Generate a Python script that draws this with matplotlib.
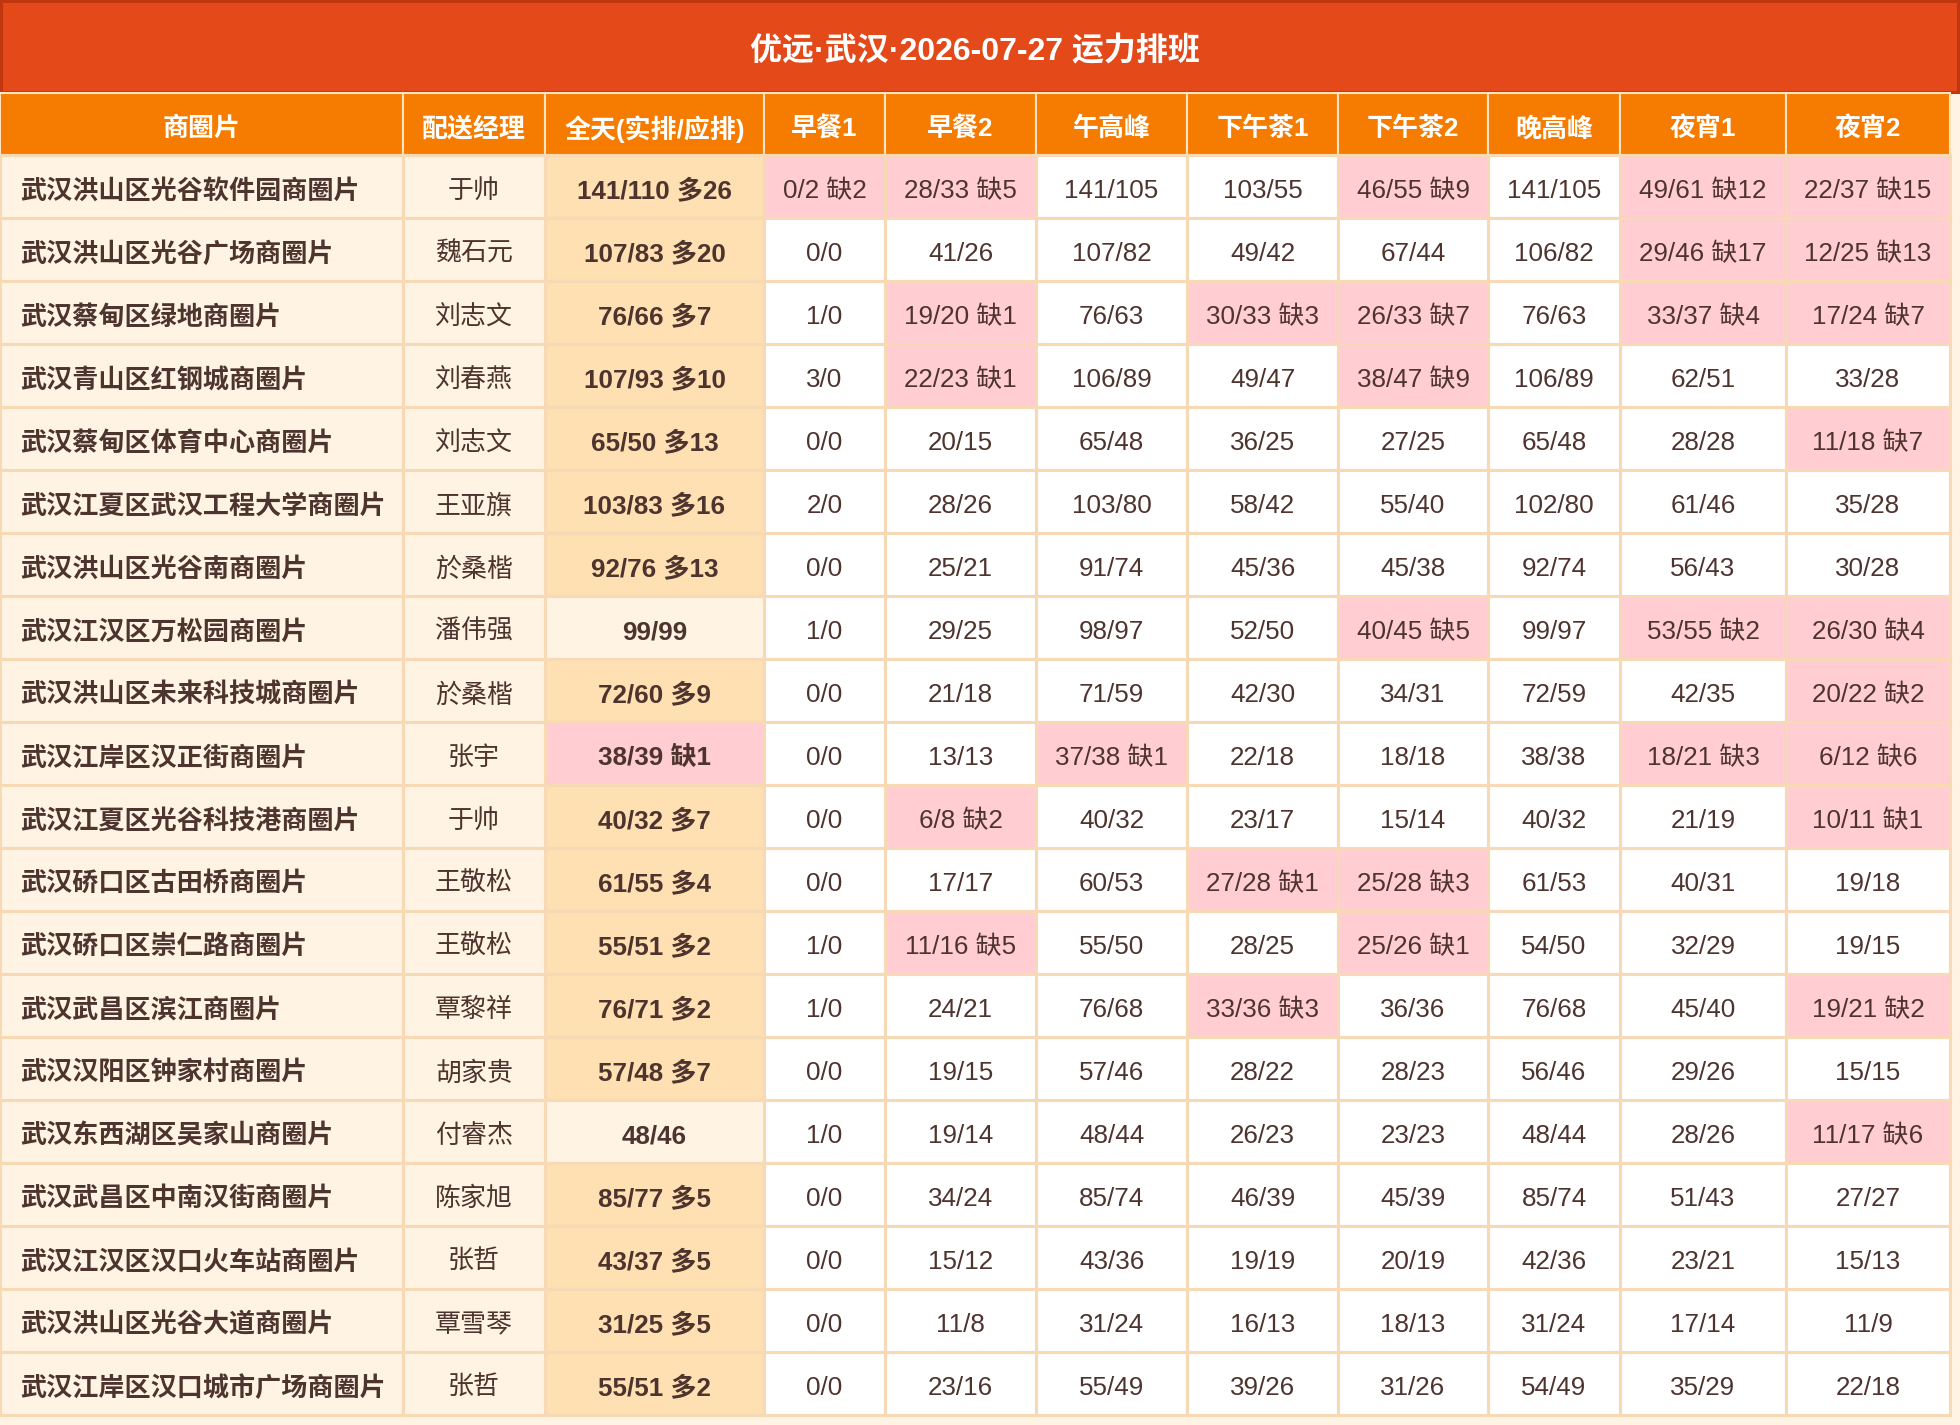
import matplotlib.pyplot as plt
from matplotlib.patches import Rectangle

plt.rcParams['font.family'] = ['Liberation Sans', 'Noto Sans CJK SC', 'DejaVu Sans']

title = '优远·武汉·2026-07-27 运力排班'
headers = ['商圈片', '配送经理', '全天(实排/应排)', '早餐1', '早餐2', '午高峰',
           '下午茶1', '下午茶2', '晚高峰', '夜宵1', '夜宵2']

areas = ['武汉洪山区光谷软件园商圈片', '武汉洪山区光谷广场商圈片', '武汉蔡甸区绿地商圈片',
         '武汉青山区红钢城商圈片', '武汉蔡甸区体育中心商圈片', '武汉江夏区武汉工程大学商圈片',
         '武汉洪山区光谷南商圈片', '武汉江汉区万松园商圈片', '武汉洪山区未来科技城商圈片',
         '武汉江岸区汉正街商圈片', '武汉江夏区光谷科技港商圈片', '武汉硚口区古田桥商圈片',
         '武汉硚口区崇仁路商圈片', '武汉武昌区滨江商圈片', '武汉汉阳区钟家村商圈片',
         '武汉东西湖区吴家山商圈片', '武汉武昌区中南汉街商圈片', '武汉江汉区汉口火车站商圈片',
         '武汉洪山区光谷大道商圈片', '武汉江岸区汉口城市广场商圈片']
managers = ['于帅', '魏石元', '刘志文', '刘春燕', '刘志文', '王亚旗', '於桑楷', '潘伟强',
            '於桑楷', '张宇', '于帅', '王敬松', '王敬松', '覃黎祥', '胡家贵', '付睿杰',
            '陈家旭', '张哲', '覃雪琴', '张哲']
full_day = ['141/110 多26', '107/83 多20', '76/66 多7', '107/93 多10', '65/50 多13',
            '103/83 多16', '92/76 多13', '99/99', '72/60 多9', '38/39 缺1', '40/32 多7',
            '61/55 多4', '55/51 多2', '76/71 多2', '57/48 多7', '48/46', '85/77 多5',
            '43/37 多5', '31/25 多5', '55/51 多2']
breakfast1 = ['0/2 缺2', '0/0', '1/0', '3/0', '0/0', '2/0', '0/0', '1/0', '0/0', '0/0',
              '0/0', '0/0', '1/0', '1/0', '0/0', '1/0', '0/0', '0/0', '0/0', '0/0']
breakfast2 = ['28/33 缺5', '41/26', '19/20 缺1', '22/23 缺1', '20/15', '28/26', '25/21',
              '29/25', '21/18', '13/13', '6/8 缺2', '17/17', '11/16 缺5', '24/21', '19/15',
              '19/14', '34/24', '15/12', '11/8', '23/16']
lunch = ['141/105', '107/82', '76/63', '106/89', '65/48', '103/80', '91/74', '98/97',
         '71/59', '37/38 缺1', '40/32', '60/53', '55/50', '76/68', '57/46', '48/44',
         '85/74', '43/36', '31/24', '55/49']
tea1 = ['103/55', '49/42', '30/33 缺3', '49/47', '36/25', '58/42', '45/36', '52/50',
        '42/30', '22/18', '23/17', '27/28 缺1', '28/25', '33/36 缺3', '28/22', '26/23',
        '46/39', '19/19', '16/13', '39/26']
tea2 = ['46/55 缺9', '67/44', '26/33 缺7', '38/47 缺9', '27/25', '55/40', '45/38',
        '40/45 缺5', '34/31', '18/18', '15/14', '25/28 缺3', '25/26 缺1', '36/36', '28/23',
        '23/23', '45/39', '20/19', '18/13', '31/26']
dinner = ['141/105', '106/82', '76/63', '106/89', '65/48', '102/80', '92/74', '99/97',
          '72/59', '38/38', '40/32', '61/53', '54/50', '76/68', '56/46', '48/44', '85/74',
          '42/36', '31/24', '54/49']
night1 = ['49/61 缺12', '29/46 缺17', '33/37 缺4', '62/51', '28/28', '61/46', '56/43',
          '53/55 缺2', '42/35', '18/21 缺3', '21/19', '40/31', '32/29', '45/40', '29/26',
          '28/26', '51/43', '23/21', '17/14', '35/29']
night2 = ['22/37 缺15', '12/25 缺13', '17/24 缺7', '33/28', '11/18 缺7', '35/28', '30/28',
          '26/30 缺4', '20/22 缺2', '6/12 缺6', '10/11 缺1', '19/18', '19/15', '19/21 缺2',
          '15/15', '11/17 缺6', '27/27', '15/13', '11/9', '22/18']

columns = [areas, managers, full_day, breakfast1, breakfast2, lunch,
           tea1, tea2, dinner, night1, night2]

# layout in pixels
W, H = 1960, 1425
col_x = [0, 403, 545, 764, 885, 1036, 1187, 1338, 1488, 1620, 1786, 1950]
title_h = 93
head_top, head_h = 93, 62
row_h = 63

C_TITLE = '#E4491A'
C_TITLE_EDGE = '#C0360F'
C_HEAD = '#F57C00'
C_CREAM = '#FFF3E3'
C_FULL = '#FFE0B2'
C_SHORT = '#FFCDD2'
C_GRID = '#F8D9B6'
C_TEXT = '#4E342E'

fig = plt.figure(figsize=(W / 100, H / 100), dpi=100)
fig.patch.set_facecolor(C_CREAM)
ax = fig.add_axes([0, 0, 1, 1])
ax.set_xlim(0, W)
ax.set_ylim(H, 0)
ax.axis('off')

# title bar
ax.add_patch(Rectangle((1, 1), W - 3, title_h - 2, facecolor=C_TITLE,
                       edgecolor=C_TITLE_EDGE, linewidth=2.2))
ax.text(W / 2 - 5, title_h / 2 + 5, title, color='white', fontsize=23,
        fontweight='bold', ha='center', va='center')

# header
for j, h in enumerate(headers):
    x0, x1 = col_x[j], col_x[j + 1]
    ax.add_patch(Rectangle((x0, head_top), x1 - x0, head_h, facecolor=C_HEAD,
                           edgecolor='#FFE3C2', linewidth=1.5))
    ax.text((x0 + x1) / 2, head_top + head_h / 2 + 5, h, color='white',
            fontsize=18.7, fontweight='bold', ha='center', va='center')

# body
for i in range(len(areas)):
    y0 = head_top + head_h + i * row_h
    for j, col in enumerate(columns):
        val = col[i]
        x0, x1 = col_x[j], col_x[j + 1]
        if j < 2:
            fc = C_CREAM
        elif '缺' in val:
            fc = C_SHORT
        elif j == 2:
            fc = C_FULL if '多' in val else C_CREAM
        else:
            fc = 'white'
        ax.add_patch(Rectangle((x0, y0), x1 - x0, row_h, facecolor=fc,
                               edgecolor=C_GRID, linewidth=2.2))
        if j == 0:
            ax.text(x0 + 20, y0 + row_h / 2 + 4.5, val, color=C_TEXT, fontsize=18.8,
                    fontweight='bold', ha='left', va='center')
        else:
            ax.text((x0 + x1) / 2, y0 + row_h / 2 + 4.5, val, color=C_TEXT,
                    fontsize=18.7, fontweight='bold' if j == 2 else 'normal',
                    ha='center', va='center')

fig.savefig('out.png', dpi=100, facecolor=fig.get_facecolor())
